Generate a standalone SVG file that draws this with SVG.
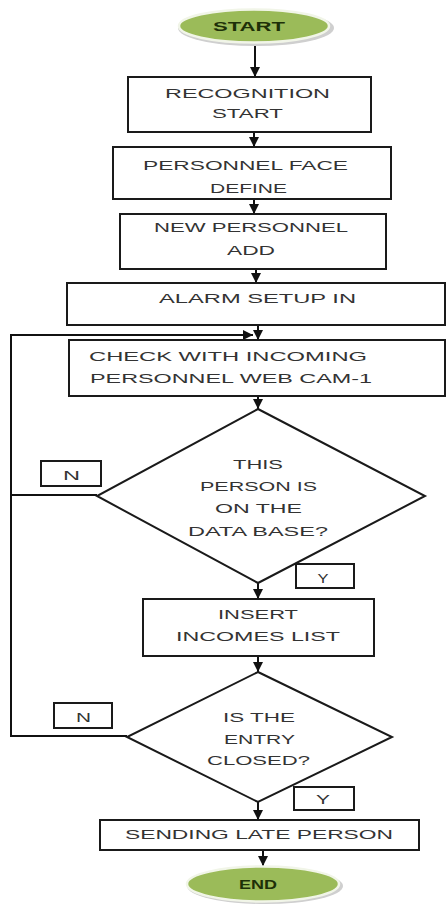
<svg xmlns="http://www.w3.org/2000/svg" width="446" height="906" viewBox="0 0 446 906">
<defs>
<marker id="ah" viewBox="0 0 10 10" refX="10" refY="5" markerWidth="5" markerHeight="5" orient="auto" markerUnits="strokeWidth">
<path d="M0,0 L10,5 L0,10 z" fill="#111"/>
</marker>
<style>
.box{fill:#fff;stroke:#1a1a1a;stroke-width:2}
.lbl{fill:#fff;stroke:#1a1a1a;stroke-width:2}
.t{font-family:"Liberation Sans",Arial,sans-serif;font-size:13.5px;fill:#333;text-anchor:middle}
.tg{font-family:"Liberation Sans",Arial,sans-serif;font-size:13.5px;font-weight:bold;fill:#1e3008;text-anchor:middle}
.c{fill:none;stroke:#111;stroke-width:2}
.shadow{fill:#cfcfcf}
.oval{fill:#9bbb59;stroke:#f1f5e8;stroke-width:2.5}
</style>
</defs>
<rect width="446" height="906" fill="#fff"/>

<g id="connectors">
<line class="c" x1="255" y1="43" x2="255" y2="77" marker-end="url(#ah)"/>
<line class="c" x1="254" y1="132" x2="254" y2="147" marker-end="url(#ah)"/>
<line class="c" x1="254" y1="199" x2="254" y2="214" marker-end="url(#ah)"/>
<line class="c" x1="256" y1="269" x2="256" y2="283" marker-end="url(#ah)"/>
<line class="c" x1="258" y1="325" x2="258" y2="340" marker-end="url(#ah)"/>
<polyline class="c" points="127,736 11,736 11,335 253,335" marker-end="url(#ah)"/>
<line class="c" x1="97" y1="495" x2="11" y2="495"/>
<line class="c" x1="258" y1="396" x2="258" y2="409" marker-end="url(#ah)"/>
<line class="c" x1="258" y1="583" x2="258" y2="599" marker-end="url(#ah)"/>
<line class="c" x1="258" y1="656" x2="258" y2="672" marker-end="url(#ah)"/>
<line class="c" x1="258" y1="802" x2="258" y2="820" marker-end="url(#ah)"/>
<line class="c" x1="263" y1="850" x2="263" y2="866" marker-end="url(#ah)"/>
</g>

<g id="start">
<ellipse class="shadow" cx="256" cy="28" rx="78" ry="18"/>
<ellipse class="oval" cx="254" cy="26" rx="75" ry="16.5"/>
<text class="tg" x="249" y="31" textLength="72" lengthAdjust="spacingAndGlyphs">START</text>
</g>

<g id="recognition">
<rect class="box" x="128" y="77" width="243" height="55"/>
<text class="t" x="247.5" y="98" textLength="165" lengthAdjust="spacingAndGlyphs">RECOGNITION</text>
<text class="t" x="247.5" y="118" textLength="71" lengthAdjust="spacingAndGlyphs">START</text>
</g>

<g id="face">
<rect class="box" x="113" y="147" width="278" height="52"/>
<text class="t" x="245.5" y="170" textLength="205" lengthAdjust="spacingAndGlyphs">PERSONNEL FACE</text>
<text class="t" x="248.5" y="193" textLength="77" lengthAdjust="spacingAndGlyphs">DEFINE</text>
</g>

<g id="newpersonnel">
<rect class="box" x="120" y="214" width="266" height="55"/>
<text class="t" x="251" y="232" textLength="194" lengthAdjust="spacingAndGlyphs">NEW PERSONNEL</text>
<text class="t" x="251" y="255" textLength="48" lengthAdjust="spacingAndGlyphs">ADD</text>
</g>

<g id="alarm">
<rect class="box" x="67" y="283" width="378" height="42"/>
<text class="t" x="257.5" y="303" textLength="197" lengthAdjust="spacingAndGlyphs">ALARM SETUP IN</text>
</g>

<g id="check">
<rect class="box" x="69" y="340" width="376" height="56"/>
<text class="t" x="228" y="361" textLength="278" lengthAdjust="spacingAndGlyphs">CHECK WITH INCOMING</text>
<text class="t" x="231" y="383" textLength="282" lengthAdjust="spacingAndGlyphs">PERSONNEL WEB CAM-1</text>
</g>

<g id="decision1">
<polygon class="box" points="258,409 425,496 258,583 97,496"/>
<text class="t" x="258" y="469" textLength="50" lengthAdjust="spacingAndGlyphs">THIS</text>
<text class="t" x="258.5" y="491" textLength="117" lengthAdjust="spacingAndGlyphs">PERSON IS</text>
<text class="t" x="258.5" y="513" textLength="87" lengthAdjust="spacingAndGlyphs">ON THE</text>
<text class="t" x="258" y="536" textLength="140" lengthAdjust="spacingAndGlyphs">DATA BASE?</text>
</g>

<g id="n1">
<rect class="lbl" x="41" y="461" width="60" height="25"/>
<text class="t" x="71.5" y="480" textLength="17" lengthAdjust="spacingAndGlyphs">N</text>
</g>

<g id="y1">
<rect class="lbl" x="296" y="564" width="58" height="24"/>
<text class="t" x="323" y="583" textLength="11" lengthAdjust="spacingAndGlyphs">Y</text>
</g>

<g id="insert">
<rect class="box" x="143" y="599" width="231" height="57"/>
<text class="t" x="258" y="619" textLength="80" lengthAdjust="spacingAndGlyphs">INSERT</text>
<text class="t" x="258" y="641" textLength="164" lengthAdjust="spacingAndGlyphs">INCOMES LIST</text>
</g>

<g id="decision2">
<polygon class="box" points="258,672 392,737 258,802 127,737"/>
<text class="t" x="259" y="722" textLength="72" lengthAdjust="spacingAndGlyphs">IS THE</text>
<text class="t" x="259.5" y="744" textLength="71" lengthAdjust="spacingAndGlyphs">ENTRY</text>
<text class="t" x="258.5" y="765" textLength="103" lengthAdjust="spacingAndGlyphs">CLOSED?</text>
</g>

<g id="n2">
<rect class="lbl" x="54" y="703" width="58" height="25"/>
<text class="t" x="83.5" y="722" textLength="15" lengthAdjust="spacingAndGlyphs">N</text>
</g>

<g id="y2">
<rect class="lbl" x="294" y="787" width="60" height="23"/>
<text class="t" x="323" y="804" textLength="14" lengthAdjust="spacingAndGlyphs">Y</text>
</g>

<g id="sending">
<rect class="box" x="100" y="820" width="319" height="30"/>
<text class="t" x="259" y="839" textLength="268" lengthAdjust="spacingAndGlyphs">SENDING LATE PERSON</text>
</g>

<g id="end">
<ellipse class="shadow" cx="265" cy="886" rx="78" ry="18"/>
<ellipse class="oval" cx="263" cy="884" rx="76" ry="17.5"/>
<text class="tg" x="258" y="889" textLength="38" lengthAdjust="spacingAndGlyphs">END</text>
</g>
</svg>
